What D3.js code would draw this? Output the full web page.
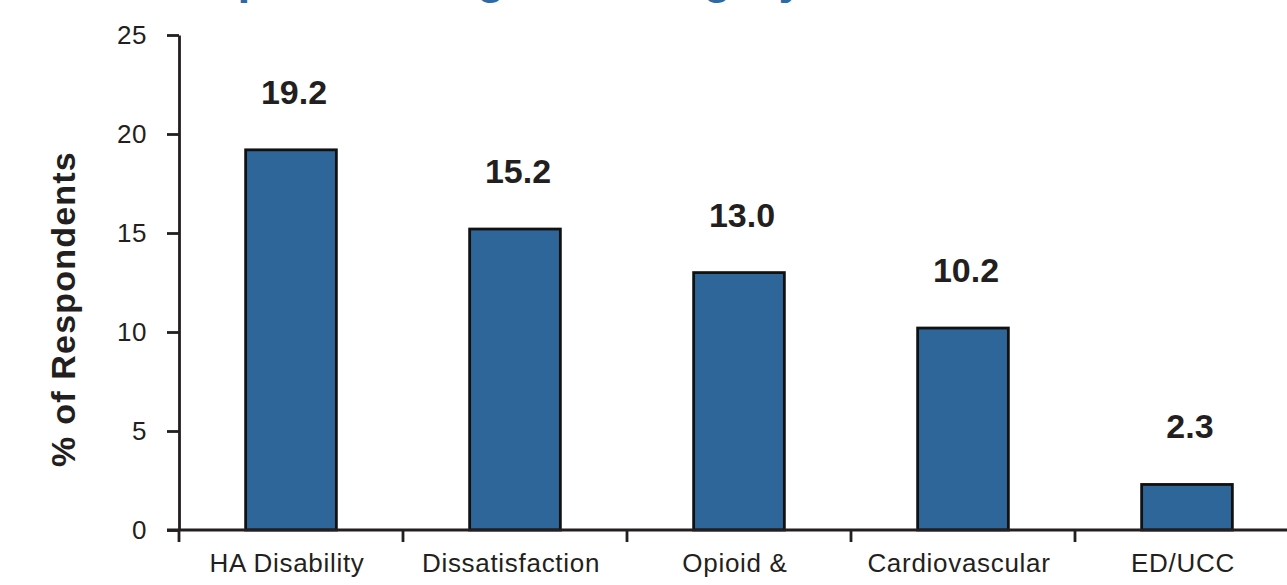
<!DOCTYPE html>
<html>
<head>
<meta charset="utf-8">
<script src="https://cdn.jsdelivr.net/npm/d3@7"></script>
<style>
  html, body { margin: 0; padding: 0; background: #fff; }
  svg { display: block; font-family: "Liberation Sans", Arial, sans-serif; }
</style>
</head>
<body>
<svg id="chart" width="1287" height="585"></svg>
<script>
// Share of respondents by category
const categories = ["HA Disability", "Dissatisfaction", "Opioid &", "Cardiovascular", "ED/UCC"];
const values = [19.2, 15.2, 13.0, 10.2, 2.3];
const yTicks = [0, 5, 10, 15, 20, 25];
const yLabel = "% of Respondents";
const title = "Top Percentage of Category";

const svg = d3.select("#chart");
const ink = "#231f20";
const barFill = "#2e6699";

const x = d3.scaleBand()
  .domain(categories)
  .range([179, 1299])
  .paddingInner(0)
  .paddingOuter(0);

const y = d3.scaleLinear()
  .domain([0, 25])
  .range([530, 35]);

// Title (runs off the top edge)
svg.append("text")
  .attr("x", 184)
  .attr("y", -7)
  .attr("fill", "#2e6aa6")
  .attr("font-weight", "bold")
  .attr("font-size", 46)
  .attr("letter-spacing", 0.4)
  .text(title);

// Bars
const barW = x.bandwidth() * 0.405;
svg.append("g")
  .selectAll("rect")
  .data(values)
  .join("rect")
  .attr("x", (d, i) => x(categories[i]) + x.bandwidth() / 2 - barW / 2)
  .attr("y", d => y(d))
  .attr("width", barW)
  .attr("height", d => y(0) - y(d))
  .attr("fill", barFill)
  .attr("stroke", "#111")
  .attr("stroke-width", 2.8);

// Value labels
svg.append("g")
  .selectAll("text")
  .data(values)
  .join("text")
  .attr("x", (d, i) => x(categories[i]) + x.bandwidth() / 2 + 3)
  .attr("y", d => y(d) - 46)
  .attr("text-anchor", "middle")
  .attr("font-weight", "bold")
  .attr("font-size", 34)
  .attr("fill", ink)
  .text(d => d.toFixed(1));

// Y axis
const yAxis = svg.append("g")
  .attr("transform", "translate(179,0)")
  .call(d3.axisLeft(y).tickValues(yTicks).tickSize(12).tickPadding(20).tickSizeOuter(0));
yAxis.select(".domain").attr("stroke", ink).attr("stroke-width", 2.8);
yAxis.selectAll(".tick line").attr("stroke", ink).attr("stroke-width", 2.8);
yAxis.selectAll(".tick text")
  .attr("fill", ink)
  .attr("font-size", 26)
  .attr("letter-spacing", 0.5)
  .attr("font-family", "'Liberation Sans', Arial, sans-serif");

// X axis with ticks at band boundaries
const xAxisG = svg.append("g").attr("transform", `translate(0,${y(0)})`);
xAxisG.append("line")
  .attr("x1", 167).attr("x2", 1299)
  .attr("y1", 0).attr("y2", 0)
  .attr("stroke", ink).attr("stroke-width", 2.8);
const bounds = categories.map(c => x(c)).concat([x.range()[1]]);
xAxisG.selectAll("line.tick")
  .data(bounds)
  .join("line")
  .attr("class", "tick")
  .attr("x1", d => d).attr("x2", d => d)
  .attr("y1", 0).attr("y2", 12)
  .attr("stroke", ink).attr("stroke-width", 2.8);
xAxisG.selectAll("text")
  .data(categories)
  .join("text")
  .attr("x", d => x(d) + x.bandwidth() / 2 - 4)
  .attr("y", 42)
  .attr("text-anchor", "middle")
  .attr("font-size", 26)
  .attr("letter-spacing", 0.7)
  .attr("fill", ink)
  .text(d => d);

// Y axis title
svg.append("text")
  .attr("transform", "translate(75,309) rotate(-90)")
  .attr("text-anchor", "middle")
  .attr("font-weight", "bold")
  .attr("font-size", 34)
  .attr("letter-spacing", 1.2)
  .attr("fill", ink)
  .text(yLabel);
</script>
</body>
</html>
